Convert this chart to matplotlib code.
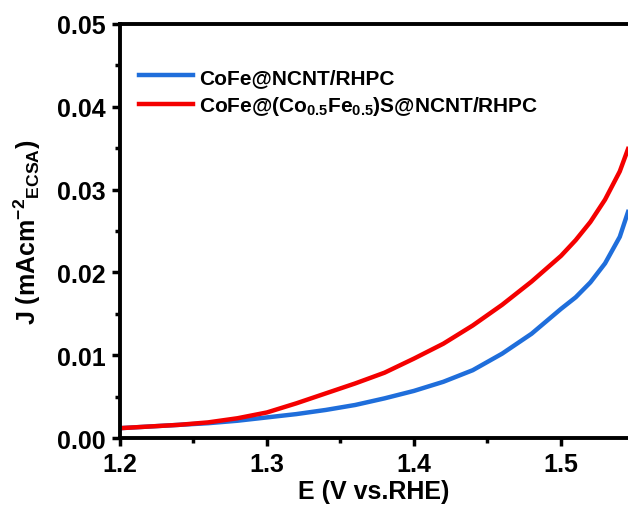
import matplotlib
matplotlib.use("Agg")
import matplotlib.pyplot as plt
from matplotlib.ticker import MultipleLocator, FormatStrFormatter

plt.rcParams['font.family'] = ['Liberation Sans', 'DejaVu Sans']
plt.rcParams['font.weight'] = 'bold'
plt.rcParams['mathtext.fontset'] = 'custom'
plt.rcParams['mathtext.rm'] = 'Liberation Sans:bold'
plt.rcParams['mathtext.bf'] = 'Liberation Sans:bold'
plt.rcParams['mathtext.it'] = 'Liberation Sans:bold'
plt.rcParams['mathtext.default'] = 'bf'

# potential (V vs. RHE)
potential = [1.20, 1.22, 1.24, 1.26, 1.28, 1.30, 1.32, 1.34, 1.36, 1.38,
             1.40, 1.42, 1.44, 1.46, 1.48, 1.50, 1.51, 1.52, 1.53, 1.54, 1.5456]
# current density normalised by ECSA
j_cofe = [0.0012, 0.0014, 0.0016, 0.0018, 0.0021, 0.0025, 0.0029, 0.0034, 0.0040, 0.0048,
          0.0057, 0.0068, 0.0082, 0.0102, 0.0126, 0.0156, 0.0170, 0.0188, 0.0211, 0.0243, 0.0273]
j_cofes = [0.0012, 0.0014, 0.0016, 0.0019, 0.0024, 0.0031, 0.0042, 0.0054, 0.0066, 0.0079,
           0.0096, 0.0114, 0.0136, 0.0161, 0.0189, 0.0220, 0.0239, 0.0261, 0.0288, 0.0322, 0.0349]
labels = ['CoFe@NCNT/RHPC', r'CoFe@(Co$_{0.5}$Fe$_{0.5}$)S@NCNT/RHPC']

fig = plt.figure(figsize=(6.28, 5.10), dpi=100)
ax = fig.add_axes([0.191, 0.139, 0.809, 0.812])

ax.plot(potential, j_cofe, color='#1f6edb', lw=3.2, label=labels[0])
ax.plot(potential, j_cofes, color='#f40000', lw=3.2, label=labels[1])

ax.set_xlim(1.2, 1.5456)
ax.set_ylim(0, 0.05)
ax.xaxis.set_major_locator(MultipleLocator(0.1))
ax.xaxis.set_minor_locator(MultipleLocator(0.05))
ax.yaxis.set_major_locator(MultipleLocator(0.01))
ax.yaxis.set_minor_locator(MultipleLocator(0.005))
ax.yaxis.set_major_formatter(FormatStrFormatter('%.2f'))
ax.xaxis.set_major_formatter(FormatStrFormatter('%.1f'))

for s in ['left', 'bottom', 'top']:
    ax.spines[s].set_linewidth(2.8)
ax.spines['right'].set_visible(False)
ax.tick_params(which='major', direction='out', length=6, width=2.5, labelsize=18, pad=4)
ax.tick_params(which='minor', direction='out', length=3.5, width=2.5)
ax.tick_params(top=False, right=False)

ax.set_xlabel('E (V vs.RHE)', fontsize=18, fontweight='bold', labelpad=2)
ax.set_ylabel(r'J (mAcm$^{-2}$$_{ECSA}$)', fontsize=18, fontweight='bold', labelpad=10)

ax.legend(loc='upper left', frameon=False, fontsize=15, handlelength=2.6,
          handletextpad=0.3, labelspacing=0.35, bbox_to_anchor=(0.0, 0.94))

fig.savefig('out.png', dpi=100)
